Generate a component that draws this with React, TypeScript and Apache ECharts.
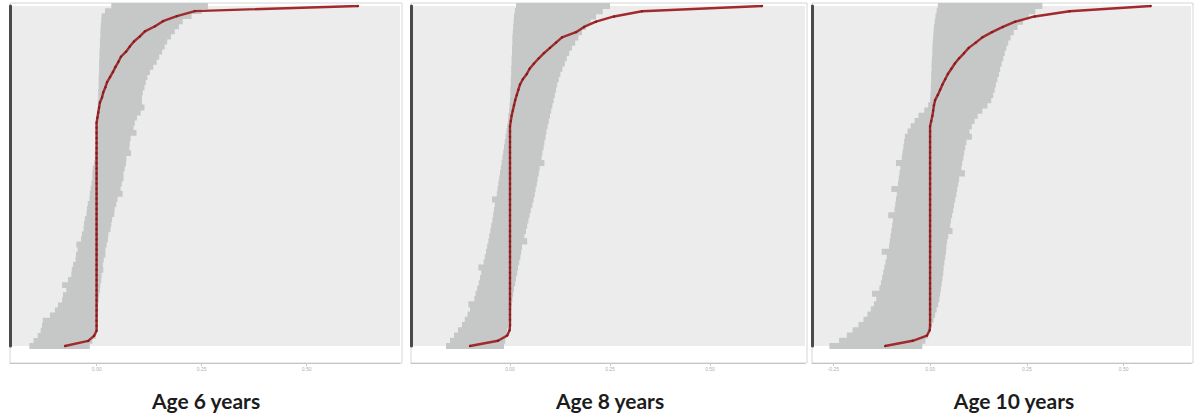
import React, { useEffect, useRef } from "react";
import * as echarts from "echarts";

// ---------- data (units ranked from lowest to highest estimate) ----------
const panelTitles = ["Age 6 years", "Age 8 years", "Age 10 years"];

const est6 = [-0.075, -0.02, -0.006,
  0, 0, 0, 0, 0, 0, 0, 0, 0, 0, 0, 0, 0, 0, 0, 0, 0, 0, 0, 0, 0, 0, 0, 0, 0, 0, 0, 0, 0, 0, 0, 0, 0, 0, 0, 0, 0, 0, 0, 0, 0, 0,
  0.002, 0.004, 0.006, 0.008, 0.013, 0.016, 0.021, 0.025, 0.032, 0.039, 0.045, 0.052, 0.058, 0.07, 0.079, 0.089, 0.103, 0.115, 0.139, 0.158, 0.191, 0.234, 0.622];
const lo6 = [-0.16, -0.15, -0.14, -0.133, -0.13, -0.128, -0.111, -0.099, -0.092, -0.082, -0.08, -0.072, -0.082, -0.068, -0.06, -0.059, -0.056, -0.05, -0.049, -0.045, -0.048, -0.037, -0.035, -0.031, -0.03, -0.028, -0.024, -0.023, -0.021, -0.017, -0.016, -0.014, -0.012, -0.01, -0.01, -0.009, -0.006, -0.004, -0.004, -0.002,
  0, 0, 0.001, 0.001, 0.002, 0.002, 0.002, 0.003, 0.003, 0.004, 0.004, 0.005, 0.005, 0.005, 0.006, 0.006, 0.006, 0.007, 0.007, 0.008, 0.008, 0.009, 0.009, 0.01, 0.011, 0.012, 0.02, 0.035, 0.06, 0.1];
const hi6 = [-0.016, -0.01, -0.002, 0, 0.002, 0.002, 0.003, 0.004, 0.003, 0.005, 0.006, 0.008, 0.009, 0.011, 0.012, 0.016, 0.015, 0.017, 0.021, 0.021, 0.024, 0.027, 0.028, 0.033, 0.035, 0.037, 0.042, 0.043, 0.047, 0.05, 0.062, 0.057, 0.06, 0.064, 0.064, 0.067, 0.07, 0.071, 0.082, 0.078,
  0.079, 0.081, 0.095, 0.088, 0.091, 0.096, 0.105, 0.114, 0.108, 0.108, 0.11, 0.114, 0.117, 0.121, 0.127, 0.135, 0.143, 0.149, 0.156, 0.162, 0.168, 0.177, 0.186, 0.196, 0.205, 0.226, 0.25, 0.265, 0.277, 0.28];

const est8 = [-0.1, -0.03, -0.007, -0.001,
  0, 0, 0, 0, 0, 0, 0, 0, 0, 0, 0, 0, 0, 0, 0, 0, 0, 0, 0, 0, 0, 0, 0, 0, 0, 0, 0, 0, 0, 0, 0, 0, 0, 0, 0, 0, 0, 0, 0,
  0.002, 0.004, 0.007, 0.01, 0.013, 0.017, 0.021, 0.025, 0.032, 0.042, 0.049, 0.06, 0.072, 0.085, 0.1, 0.115, 0.13, 0.165, 0.185, 0.215, 0.26, 0.33, 0.63];
const lo8 = [-0.16, -0.15, -0.14, -0.13, -0.12, -0.113, -0.106, -0.1, -0.104, -0.089, -0.086, -0.082, -0.078, -0.075, -0.072, -0.079, -0.066, -0.063, -0.06, -0.057, -0.054, -0.052, -0.049, -0.047, -0.044, -0.042, -0.04, -0.038, -0.045, -0.033, -0.031, -0.029, -0.027, -0.025, -0.023, -0.021, -0.019, -0.017, -0.015, -0.013,
  -0.011, -0.009, -0.007, -0.005, -0.004, -0.002, -0.001, 0, 0.001, 0.001, 0.002, 0.002, 0.003, 0.003, 0.004, 0.004, 0.005, 0.005, 0.006, 0.006, 0.007, 0.008, 0.009, 0.01, 0.012, 0.015, 0.02, 0.03, 0.05, 0.08];
const hi8 = [-0.015, -0.012, -0.009, -0.007, -0.004, -0.002, 0, 0.002, 0.004, 0.006, 0.008, 0.01, 0.013, 0.015, 0.018, 0.02, 0.023, 0.026, 0.028, 0.03, 0.043, 0.036, 0.04, 0.043, 0.046, 0.049, 0.052, 0.056, 0.059, 0.062, 0.064, 0.067, 0.069, 0.072, 0.074, 0.086, 0.079, 0.081, 0.084, 0.086,
  0.089, 0.091, 0.094, 0.097, 0.1, 0.103, 0.106, 0.109, 0.112, 0.115, 0.118, 0.122, 0.126, 0.131, 0.137, 0.142, 0.148, 0.155, 0.163, 0.171, 0.18, 0.19, 0.202, 0.215, 0.232, 0.25, 0.27, 0.3, 0.33, 0.35];

const est10 = [-0.116, -0.045, -0.008, -0.001,
  0, 0, 0, 0, 0, 0, 0, 0, 0, 0, 0, 0, 0, 0, 0, 0, 0, 0, 0, 0, 0, 0, 0, 0, 0, 0, 0, 0, 0, 0, 0, 0, 0, 0, 0, 0, 0, 0, 0,
  0.003, 0.006, 0.008, 0.01, 0.013, 0.02, 0.026, 0.032, 0.039, 0.046, 0.055, 0.064, 0.075, 0.088, 0.1, 0.118, 0.135, 0.16, 0.188, 0.22, 0.27, 0.36, 0.57];
const lo10 = [-0.26, -0.235, -0.215, -0.2, -0.185, -0.172, -0.162, -0.153, -0.145, -0.139, -0.15, -0.131, -0.127, -0.124, -0.121, -0.118, -0.115, -0.112, -0.125, -0.106, -0.104, -0.102, -0.1, -0.098, -0.096, -0.108, -0.092, -0.09, -0.088, -0.086, -0.1, -0.083, -0.081, -0.079, -0.077, -0.088, -0.073, -0.071, -0.069, -0.067,
  -0.065, -0.058, -0.05, -0.04, -0.03, -0.015, -0.005, 0, 0.001, 0.002, 0.002, 0.003, 0.003, 0.004, 0.004, 0.005, 0.006, 0.006, 0.007, 0.008, 0.009, 0.01, 0.012, 0.014, 0.017, 0.02, 0.03, 0.05, 0.08, 0.12];
const hi10 = [-0.02, -0.012, -0.005, 0, 0.004, 0.009, 0.013, 0.017, 0.021, 0.024, 0.026, 0.028, 0.03, 0.032, 0.034, 0.035, 0.037, 0.039, 0.041, 0.042, 0.044, 0.047, 0.058, 0.052, 0.054, 0.057, 0.06, 0.062, 0.065, 0.068, 0.07, 0.073, 0.075, 0.09, 0.081, 0.083, 0.086, 0.088, 0.091, 0.094,
  0.108, 0.102, 0.108, 0.115, 0.123, 0.135, 0.148, 0.158, 0.163, 0.167, 0.17, 0.174, 0.178, 0.181, 0.185, 0.189, 0.193, 0.197, 0.202, 0.208, 0.216, 0.226, 0.24, 0.255, 0.272, 0.29, 0.31, 0.335, 0.36, 0.37];

const ticks6 = [0, 0.25, 0.5];
const ticks8 = [0, 0.25, 0.5];
const ticks10 = [-0.25, 0, 0.25, 0.5];

// ---------- layout ----------
const panelLayout = [
  { left: 10, width: 390, min: -0.206, max: 0.722, titleX: 206 },
  { left: 411, width: 394, min: -0.2475, max: 0.7375, titleX: 610 },
  { left: 812, width: 379, min: -0.305, max: 0.674, titleX: 1014 },
];

export default function App() {
  const ref = useRef<HTMLDivElement>(null);

  useEffect(() => {
    if (!ref.current) return;
    const chart = echarts.init(ref.current, undefined, { renderer: "svg" });

    const estimates = [est6, est8, est10];
    const lows = [lo6, lo8, lo10];
    const highs = [hi6, hi8, hi10];
    const tickSets = [ticks6, ticks8, ticks10];

    const grids: any[] = [];
    const xAxes: any[] = [];
    const yAxes: any[] = [];
    const series: any[] = [];
    const graphics: any[] = [];

    panelLayout.forEach((p, k) => {
      const cats = estimates[k].map((_, i) => String(i));
      grids.push({
        left: p.left,
        width: p.width,
        top: 6,
        bottom: 71,
        show: true,
        backgroundColor: "#ebeceb",
        borderWidth: 0,
      });
      xAxes.push({
        type: "value",
        gridIndex: k,
        min: p.min,
        max: p.max,
        offset: 17,
        axisLine: { show: true, onZero: false, lineStyle: { color: "#c4c4c4", width: 1 } },
        axisTick: {
          show: true,
          customValues: tickSets[k],
          length: 3,
          lineStyle: { color: "#c8c8c8" },
        },
        axisLabel: {
          customValues: tickSets[k],
          formatter: (v: number) => v.toFixed(2),
          fontSize: 5,
          color: "#b0b0b0",
          margin: 3,
        },
        splitLine: { show: false },
      });
      yAxes.push({
        type: "category",
        gridIndex: k,
        data: cats,
        boundaryGap: false,
        axisLine: { show: true, onZero: false, lineStyle: { color: "#4a4a4a", width: 3 } },
        axisTick: { show: false },
        axisLabel: { show: false },
        splitLine: { show: false },
      });
      const ciData = estimates[k].map((_, i) => [i, lows[k][i], highs[k][i]]);
      series.push({
        type: "custom",
        xAxisIndex: k,
        yAxisIndex: k,
        silent: true,
        data: ciData,
        encode: { x: [1, 2], y: 0 },
        renderItem: (params: any, api: any) => {
          const idx = api.value(0);
          const a = api.coord([api.value(1), idx]);
          const b = api.coord([api.value(2), idx]);
          const h = api.size([0, 1])[1];
          return {
            type: "rect",
            shape: { x: a[0], y: a[1] - h / 2 - 0.4, width: b[0] - a[0], height: h + 0.8 },
            style: { fill: "#c6c7c7" },
          };
        },
        z: 2,
      });
      series.push({
        type: "line",
        xAxisIndex: k,
        yAxisIndex: k,
        data: estimates[k],
        silent: true,
        symbol: "circle",
        symbolSize: 2.4,
        showSymbol: true,
        lineStyle: { color: "#a02a2c", width: 2.4 },
        itemStyle: { color: "#7e1c1e" },
        z: 3,
      });
      // light panel frame
      graphics.push({
        type: "rect",
        shape: { x: p.left, y: 3, width: p.width + 2, height: 360 },
        style: { fill: "none", stroke: "#d6d6d6", lineWidth: 1 },
        silent: true,
        z: -1,
      });
      graphics.push({
        type: "text",
        x: p.titleX,
        y: 400,
        style: {
          text: panelTitles[k],
          textAlign: "center",
          textVerticalAlign: "middle",
          font: "bold 21px Lato, 'Open Sans', sans-serif",
          fill: "#1c1c1c",
        },
      });
    });

    chart.setOption({
      animation: false,
      backgroundColor: "#ffffff",
      grid: grids,
      xAxis: xAxes,
      yAxis: yAxes,
      series,
      graphic: graphics,
    });

    return () => chart.dispose();
  }, []);

  return (
    <div
      ref={ref}
      style={{ position: "fixed", left: 0, top: 0, width: "1194px", height: "417px", background: "#fff" }}
    />
  );
}
